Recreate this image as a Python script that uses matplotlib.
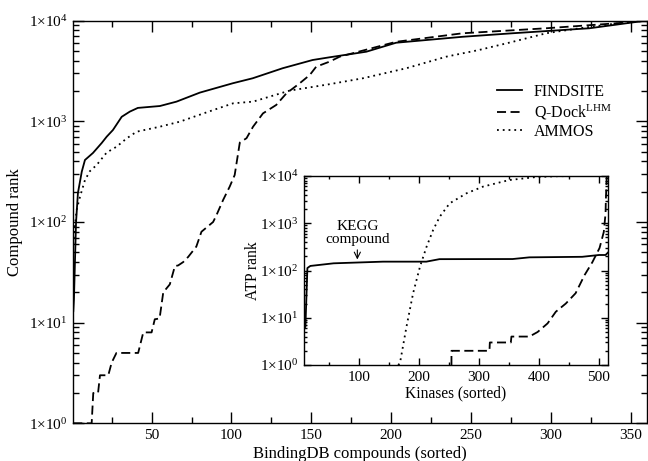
import numpy as np
import matplotlib

matplotlib.use("Agg")
import matplotlib.pyplot as plt
from matplotlib.ticker import FuncFormatter, LogLocator, MultipleLocator, NullFormatter


# main panel: rank of each BindingDB compound (sorted)
findsite_x = [1, 1.4, 2.7, 3.9, 6.3, 8.3, 13.3, 18.8, 21.9, 25.8, 31.3, 36.4, 41.4, 55.2, 65.6,
              80.2, 100.8, 113.3, 132, 150.8, 161.4, 184.4, 203, 244.6, 275.8, 324, 359]
findsite_y = [13, 17, 98, 194, 316, 413, 485, 610, 704, 820, 1110, 1250, 1360, 1420, 1570,
              1930, 2390, 2680, 3370, 4070, 4330, 4920, 6040, 6920, 7500, 8410, 10000]

qdock_x = [1, 12.5, 13.5, 16.5, 17.7, 22.9, 25, 28, 41.6, 44.8, 50, 52, 55, 57.3, 61.4, 64.6,
           66.6, 69.8, 72.9, 78, 81.2, 88.5, 90.6, 94.8, 98.9, 102, 105.2, 109.4, 113.5, 116.6,
           119.7, 128, 134.4, 142.7, 149, 153, 161.4, 167.7, 203, 244.6, 296.9, 340.6, 359]
qdock_y = [1, 1, 2, 2, 3, 3, 4, 5, 5, 8, 8, 10.8, 11, 20, 24, 36.5,
           37, 40, 45, 57, 80, 100, 117, 166, 225, 293, 615, 680, 885, 1030,
           1200, 1455, 1900, 2390, 2890, 3490, 3920, 4390, 6170, 7500, 8410, 9420, 10000]

ammos_x = [1, 2, 3.1, 5.2, 8.3, 11.4, 15.6, 21.9, 28.1, 34.4, 40.6, 55.2, 67.7, 86.4, 101,
           113.5, 136.4, 161.4, 182.3, 209.4, 234.4, 255.2, 276, 296.9, 317.7, 338.5, 359]
ammos_y = [60, 90, 132, 178, 261, 320, 368, 490, 560, 677, 789, 885, 993, 1260, 1510,
           1570, 2020, 2340, 2680, 3370, 4390, 5130, 6170, 7500, 8410, 9270, 10000]

# inset: ATP rank per kinase (sorted)
atp_findsite_x = [9, 10.4, 13.7, 18.7, 57.4, 140, 212, 234, 356, 384, 472, 500, 511, 515]
atp_findsite_y = [6, 6.5, 113, 125, 142, 154, 154, 174, 175, 190, 195, 213, 213, 240]

atp_qdock_x = [254, 254, 317.4, 318, 353, 354, 384, 397.7, 414.3, 428, 444.7, 461, 476,
               489, 501, 508, 511, 511.5, 513]
atp_qdock_y = [1, 2, 2, 3, 3, 4, 4, 5, 7.6, 13.4, 20, 33, 80,
               150, 300, 650, 1620, 3100, 10000]

atp_ammos_x = [165, 168, 179, 190, 201.5, 212.4, 223.4, 234.5, 251, 279, 306.4, 339.5,
               350.6, 395, 430, 478, 515]
atp_ammos_y = [1, 1.08, 6.5, 33, 121, 317, 720, 1380, 2640, 4300, 5950, 7600,
               8220, 9500, 9900, 10000, 10000]

labels = ["FINDSITE", "Q-Dock$^{\\mathregular{LHM}}$", "AMMOS"]


plt.rcParams["font.family"] = ["Liberation Serif", "DejaVu Serif"]
plt.rcParams["mathtext.fontset"] = "custom"
plt.rcParams["mathtext.rm"] = "Liberation Serif"
plt.rcParams["mathtext.it"] = "Liberation Serif:italic"

SOLID = dict(color="black", lw=1.3, ls="-")
DASHED = dict(color="black", lw=1.3, ls=(0, (5, 2.5)))
DOTTED = dict(color="black", lw=1.3, ls=(0, (1, 2.2)))


def pow_label(v, pos):
    if v <= 0:
        return ""
    return "1×10$^{\\mathregular{%d}}$" % int(round(np.log10(v)))


def style_axes(ax, major_len, minor_len, x_major, x_minor, size):
    ax.set_yscale("log")
    ax.set_ylim(1, 1e4)
    ax.yaxis.set_major_locator(LogLocator(base=10, numticks=10))
    ax.yaxis.set_minor_locator(LogLocator(base=10, subs=np.arange(2, 10), numticks=10))
    ax.yaxis.set_major_formatter(FuncFormatter(pow_label))
    ax.yaxis.set_minor_formatter(NullFormatter())
    ax.xaxis.set_major_locator(MultipleLocator(x_major))
    ax.xaxis.set_minor_locator(MultipleLocator(x_minor))
    ax.tick_params(which="both", direction="in", top=True, right=True, labelsize=size,
                   width=1.0, pad=4)
    ax.tick_params(which="major", length=major_len)
    ax.tick_params(which="minor", length=minor_len)
    for sp in ax.spines.values():
        sp.set_linewidth(1.0)


fig = plt.figure(figsize=(6.48, 4.61), dpi=100)

ax = fig.add_axes([0.1131, 0.0818, 0.8853, 0.8733])
ax.plot(findsite_x, findsite_y, label=labels[0], **SOLID)
ax.plot(qdock_x, qdock_y, label=labels[1], **DASHED)
ax.plot(ammos_x, ammos_y, label=labels[2], **DOTTED)
style_axes(ax, 8, 4.5, 50, 25, 11)
ax.set_xlim(1, 360)
ax.set_xlabel("BindingDB compounds (sorted)", fontsize=12, labelpad=3)
ax.set_ylabel("Compound rank", fontsize=12, labelpad=4)
ax.legend(loc="upper left", bbox_to_anchor=(0.767, 0.818), bbox_transform=fig.transFigure,
          frameon=False, fontsize=11.5, handlelength=1.55, handletextpad=0.75,
          labelspacing=0.15, borderpad=0, borderaxespad=0)

ins = fig.add_axes([0.4691, 0.2082, 0.4691, 0.41])
ins.plot(atp_findsite_x, atp_findsite_y, **SOLID)
ins.plot(atp_qdock_x, atp_qdock_y, **DASHED)
ins.plot(atp_ammos_x, atp_ammos_y, **DOTTED)
style_axes(ins, 5, 2.5, 100, 50, 11)
ins.set_xlim(8, 515)
ins.set_xlabel("Kinases (sorted)", fontsize=11.2, labelpad=1)
ins.set_ylabel("ATP rank", fontsize=11.2, labelpad=-1)
ins.annotate("KEGG\ncompound", xy=(97, 160), xytext=(97, 10 ** 2.8),
             ha="center", va="center", fontsize=11, linespacing=1.0,
             arrowprops=dict(arrowstyle="->", lw=0.8, color="black", shrinkA=1, shrinkB=1))

fig.savefig("out.png", dpi=100)
